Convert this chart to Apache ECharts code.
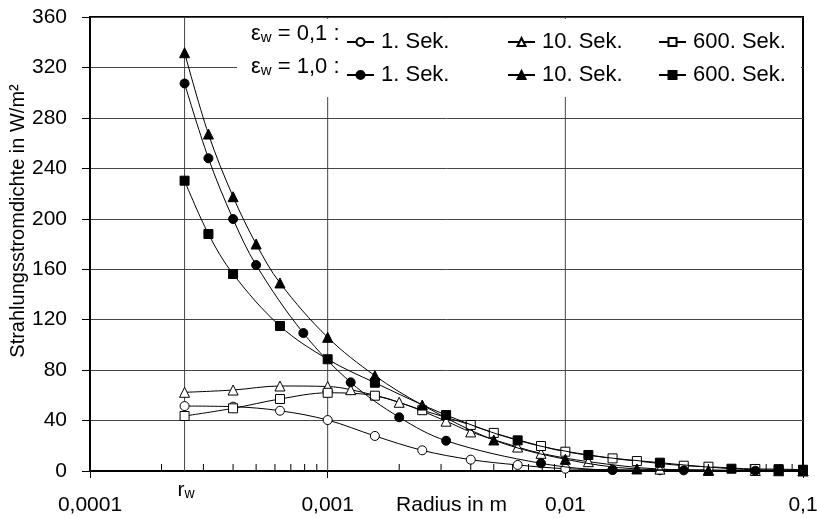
<!DOCTYPE html>
<html><head><meta charset="utf-8">
<script src="https://cdn.jsdelivr.net/npm/echarts@6/dist/echarts.min.js"></script>
<style>html,body{margin:0;padding:0;background:#fff}#c{width:817px;height:518px}</style>
</head><body><div id="c"></div>
<script>
// ---- data ----
const xTickLabels = ['0,0001', '0,001', '0,01', '0,1'];
const rW = 0.00025;
const gridLineX = [0.00025, 0.001, 0.01];
const minorTickX = [0.0002,0.0003,0.0004,0.0005,0.0006,0.0007,0.0008,0.0009,
                    0.002,0.003,0.004,0.005,0.006,0.007,0.008,0.009,
                    0.02,0.03,0.04,0.05,0.06,0.07,0.08,0.09];

// eps = 0,1
const oc_x = [0.00025,0.0004,0.00063,0.001,0.00158,0.0025,0.004,0.0063,0.01,0.0158,0.025,0.04,0.063,0.1];
const oc_y = [51.5,51,47.8,40.4,27.8,16.4,9,4.8,1.8,1,0.6,0.4,0.2,0.1];
const ot_x = [0.00025,0.0004,0.00063,0.001,0.00125,0.002,0.00315,0.004,0.0063,0.0079,0.0125,0.025,0.04,0.063,0.1];
const ot_y = [62.4,64.2,67.4,67,64.5,54.5,39.5,31,19,14,7.4,1.5,0.8,0.4,0.2];
const os_x = [0.00025,0.0004,0.00063,0.001,0.00158,0.0025,0.004,0.005,0.0079,0.01,0.0158,0.02,0.0315,0.04,0.063,0.079,0.1];
const os_y = [43.6,49.7,57.1,62,59.7,48.2,36.5,30.2,19.8,15.3,10,7.9,4.2,3.4,1.6,1.5,1.0];
// eps = 1,0
const fc_x = [0.00025,0.000315,0.0004,0.0005,0.00079,0.00125,0.002,0.00315,0.0079,0.0158,0.0315,0.063,0.1];
const fc_y = [307.3,248,199.8,163.3,109.4,70.3,42.6,24,6.1,0.8,0.5,0.2,0.1];
const ft_x = [0.00025,0.000315,0.0004,0.0005,0.00063,0.001,0.00158,0.0025,0.005,0.01,0.02,0.04,0.079,0.1];
const ft_y = [331.7,267.2,217.5,180,149.1,106,75.6,52.3,24.6,9.3,1.6,0.5,0.2,0.1];
const fs_x = [0.00025,0.000315,0.0004,0.00063,0.001,0.00158,0.00315,0.0063,0.0125,0.025,0.05,0.079,0.1];
const fs_y = [230.2,187.9,156.2,115,88.6,70,44.4,24.3,12.7,6.6,1.8,0.8,0.8];

const seriesNames = ['a1','a10','a600','b1','b10','b600'];
const seriesLabels = ['1. Sek.','10. Sek.','600. Sek.','1. Sek.','10. Sek.','600. Sek.'];
const yAxisTitle = 'Strahlungsstromdichte in W/m²';

// ---- chart ----
const FONT = '"Liberation Sans", Arial, sans-serif';
const chart = echarts.init(document.getElementById('c'));

function mk(name, xs, ys, symbol, filled, size) {
  return {
    name, type: 'line', data: xs.map((x, i) => [x, ys[i]]),
    smooth: 0.35, symbol, symbolSize: size, showAllSymbol: true,
    lineStyle: {color: '#000', width: 1},
    itemStyle: {color: filled ? '#000' : '#fff', borderColor: '#000', borderWidth: 1},
    emphasis: {disabled: true}, z: filled ? 4 : 3, animation: false
  };
}

// vertical grid lines (r_w, 0.001, 0.01) through the axis scale
const gridSeries = {
  type: 'custom', z: 1, silent: true, animation: false, clip: false,
  data: gridLineX.map(v => [v, 0]), encode: {x: 0, y: 1},
  renderItem: (params, api) => {
    const x = api.value(0);
    const p0 = api.coord([x, 0]), p1 = api.coord([x, 360]);
    return {type: 'line', shape: {x1: p0[0], y1: p0[1], x2: p1[0], y2: p1[1]},
            style: {stroke: '#444', lineWidth: 1}};
  }
};
// inward minor ticks on the log axis
const minorTickSeries = {
  type: 'custom', z: 6, silent: true, animation: false, clip: false,
  data: minorTickX.map(v => [v, 0]), encode: {x: 0, y: 1},
  renderItem: (params, api) => {
    const p = api.coord([api.value(0), 0]);
    return {type: 'line', shape: {x1: p[0], y1: p[1] - 1, x2: p[0], y2: p[1] - 7},
            style: {stroke: '#000', lineWidth: 1}};
  }
};
// r_w label under its grid line
const rwLabelSeries = {
  type: 'custom', z: 5, silent: true, animation: false, clip: false,
  data: [[rW, 0]], encode: {x: 0, y: 1},
  renderItem: (params, api) => {
    const p = api.coord([api.value(0), 0]);
    return {type: 'text', x: p[0] - 7, y: p[1] + 8,
      style: {text: '{r|r}{w|w}', rich: {
        r: {fontSize: 21, fontFamily: FONT, fill: '#000', verticalAlign: 'bottom', lineHeight: 22},
        w: {fontSize: 14, fontFamily: FONT, fill: '#000', verticalAlign: 'bottom', lineHeight: 14}}}};
  }
};

const legendLefts = [341, 502, 653];
const legends = seriesNames.map((n, i) => ({
  data: [n], left: legendLefts[i % 3], top: i < 3 ? 26 : 59,
  itemWidth: 27, itemHeight: 10, selectedMode: false, z: 20,
  formatter: () => seriesLabels[i],
  textStyle: {fontSize: 22, fontFamily: FONT, color: '#000', padding: [0, 0, 0, 2]}
}));

const epsText = (val) => '{e|ε}{s|w}{e| = ' + val + ' :}';
const epsRich = {
  e: {fontSize: 22, fontFamily: FONT, fill: '#000', verticalAlign: 'bottom', lineHeight: 24},
  s: {fontSize: 15, fontFamily: FONT, fill: '#000', verticalAlign: 'bottom', lineHeight: 16}
};

chart.setOption({
  animation: false,
  backgroundColor: '#fff',
  grid: {left: 90, right: 14, top: 17, bottom: 47, show: true, borderColor: '#000', borderWidth: 2,
         outerBoundsMode: 'none', containLabel: false},
  legend: legends,
  graphic: [
    {type: 'rect', shape: {x: 237, y: 19, width: 564, height: 78}, style: {fill: '#fff'}, z: 10, silent: true},
    {type: 'text', left: 251, top: 23, z: 11, style: {text: epsText('0,1'), rich: epsRich, fill: '#000'}},
    {type: 'text', left: 251, top: 56, z: 11, style: {text: epsText('1,0'), rich: epsRich, fill: '#000'}},
    {type: 'text', x: 18, y: 221, rotation: Math.PI / 2, z: 11,
     style: {text: yAxisTitle, fontSize: 20, fontFamily: FONT, fill: '#000', align: 'center', verticalAlign: 'middle'}}
  ],
  xAxis: {
    type: 'log', logBase: 10, min: 0.0001, max: 0.1,
    name: 'Radius in m', nameLocation: 'middle', nameGap: 24, nameMoveOverlap: false,
    nameTextStyle: {fontSize: 21, fontFamily: FONT, color: '#000', padding: [0, 0, 0, 10]},
    axisLine: {lineStyle: {color: '#000', width: 2}},
    axisTick: {show: true, inside: false, length: 7, lineStyle: {color: '#000', width: 1}},
    axisLabel: {fontSize: 21, fontFamily: FONT, color: '#000', margin: 24,
      formatter: v => xTickLabels[Math.round(Math.log10(v)) + 4]},
    splitLine: {show: false}
  },
  yAxis: {
    type: 'value', min: 0, max: 360, interval: 40,
    axisLine: {show: true, lineStyle: {color: '#000', width: 2}},
    axisTick: {show: true, inside: false, length: 8, lineStyle: {color: '#000', width: 1}},
    axisLabel: {fontSize: 21, fontFamily: FONT, color: '#000', margin: 23},
    splitLine: {show: true, lineStyle: {color: '#444', width: 1}}
  },
  series: [
    gridSeries, minorTickSeries, rwLabelSeries,
    mk('a1', oc_x, oc_y, 'circle', false, 9),
    mk('a10', ot_x, ot_y, 'triangle', false, 10),
    mk('a600', os_x, os_y, 'rect', false, 9),
    mk('b1', fc_x, fc_y, 'circle', true, 9),
    mk('b10', ft_x, ft_y, 'triangle', true, 10),
    mk('b600', fs_x, fs_y, 'rect', true, 9)
  ]
});
</script></body></html>
